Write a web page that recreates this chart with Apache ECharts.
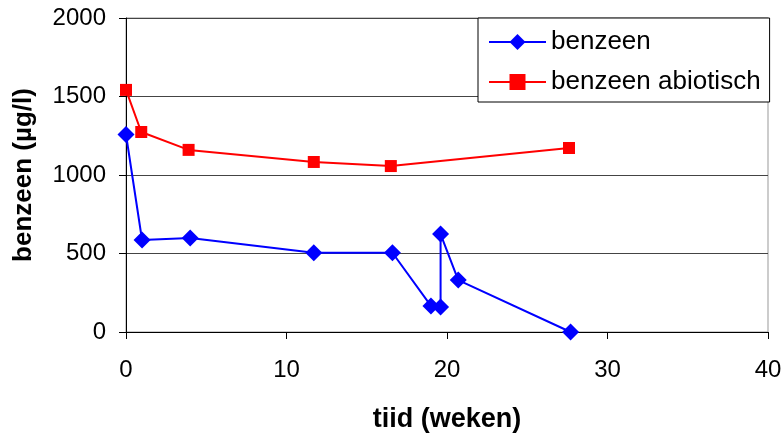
<!DOCTYPE html>
<html>
<head>
<meta charset="utf-8">
<script src="https://cdn.jsdelivr.net/npm/echarts@6/dist/echarts.min.js"></script>
<style>html,body{margin:0;padding:0;background:#fff}#c{width:784px;height:434px}</style>
</head>
<body>
<div id="c"></div>
<script>
const seriesNames = ['benzeen', 'benzeen abiotisch'];
const benzeenX = [0, 1, 4, 11.7, 16.6, 19.0, 19.6, 19.6, 20.7, 27.7];
const benzeenY = [1258, 586, 599, 505, 505, 166, 159, 624, 331, 0];
const abiotischX = [0, 0.95, 3.9, 11.7, 16.5, 27.6];
const abiotischY = [1542, 1274, 1160, 1083, 1057, 1172];
const xTicks = { min: 0, max: 40, interval: 10 };
const yTicks = { min: 0, max: 2000, interval: 500 };

const zip = (xs, ys) => xs.map((x, i) => [x, ys[i]]);
const font = 'Liberation Sans, Arial, sans-serif';

const chart = echarts.init(document.getElementById('c'));
chart.setOption({
  animation: false,
  grid: { left: 126, right: 16, top: 18, bottom: 102, containLabel: false, outerBoundsMode: 'none', show: true, borderColor: '#999', borderWidth: 1, backgroundColor: '#fff' },
  legend: {
    orient: 'vertical', left: 478, top: 18,
    backgroundColor: '#fff', borderColor: '#000', borderWidth: 1,
    padding: [11, 9, 7, 10],
    itemWidth: 57, itemHeight: 20, itemGap: 14,
    textStyle: { fontFamily: font, fontSize: 26, color: '#000', lineHeight: 26 },
    data: seriesNames
  },
  xAxis: {
    type: 'value', min: xTicks.min, max: xTicks.max, interval: xTicks.interval,
    axisLine: { show: true, lineStyle: { color: '#000', width: 1 } },
    axisTick: { show: true, inside: false, length: 7, lineStyle: { color: '#000' } },
    splitLine: { show: false },
    axisLabel: { fontFamily: font, fontSize: 24, color: '#000', margin: 26 },
    name: 'tiid (weken)', nameLocation: 'middle', nameGap: 74,
    nameTextStyle: { fontFamily: font, fontSize: 27, fontWeight: 'bold', color: '#000' }
  },
  yAxis: {
    type: 'value', min: yTicks.min, max: yTicks.max, interval: yTicks.interval,
    axisLine: { show: true, lineStyle: { color: '#000', width: 1 } },
    axisTick: { show: true, inside: false, length: 7, lineStyle: { color: '#000' } },
    splitLine: { show: true, lineStyle: { color: '#444', width: 1 } },
    axisLabel: { fontFamily: font, fontSize: 24, color: '#000', margin: 20, formatter: v => String(v) },
    name: 'benzeen (µg/l)', nameLocation: 'middle', nameGap: 89,
    nameTextStyle: { fontFamily: font, fontSize: 26, fontWeight: 'bold', color: '#000' }
  },
  series: [
    {
      name: seriesNames[0], type: 'line', data: zip(benzeenX, benzeenY),
      symbol: 'diamond', symbolSize: 17, showAllSymbol: true,
      lineStyle: { color: '#0000ff', width: 2 }, itemStyle: { color: '#0000ff' }, z: 3
    },
    {
      name: seriesNames[1], type: 'line', data: zip(abiotischX, abiotischY),
      symbol: 'rect', symbolSize: 12, showAllSymbol: true,
      lineStyle: { color: '#ff0000', width: 2 }, itemStyle: { color: '#ff0000' }, z: 2
    }
  ]
});
</script>
</body>
</html>
